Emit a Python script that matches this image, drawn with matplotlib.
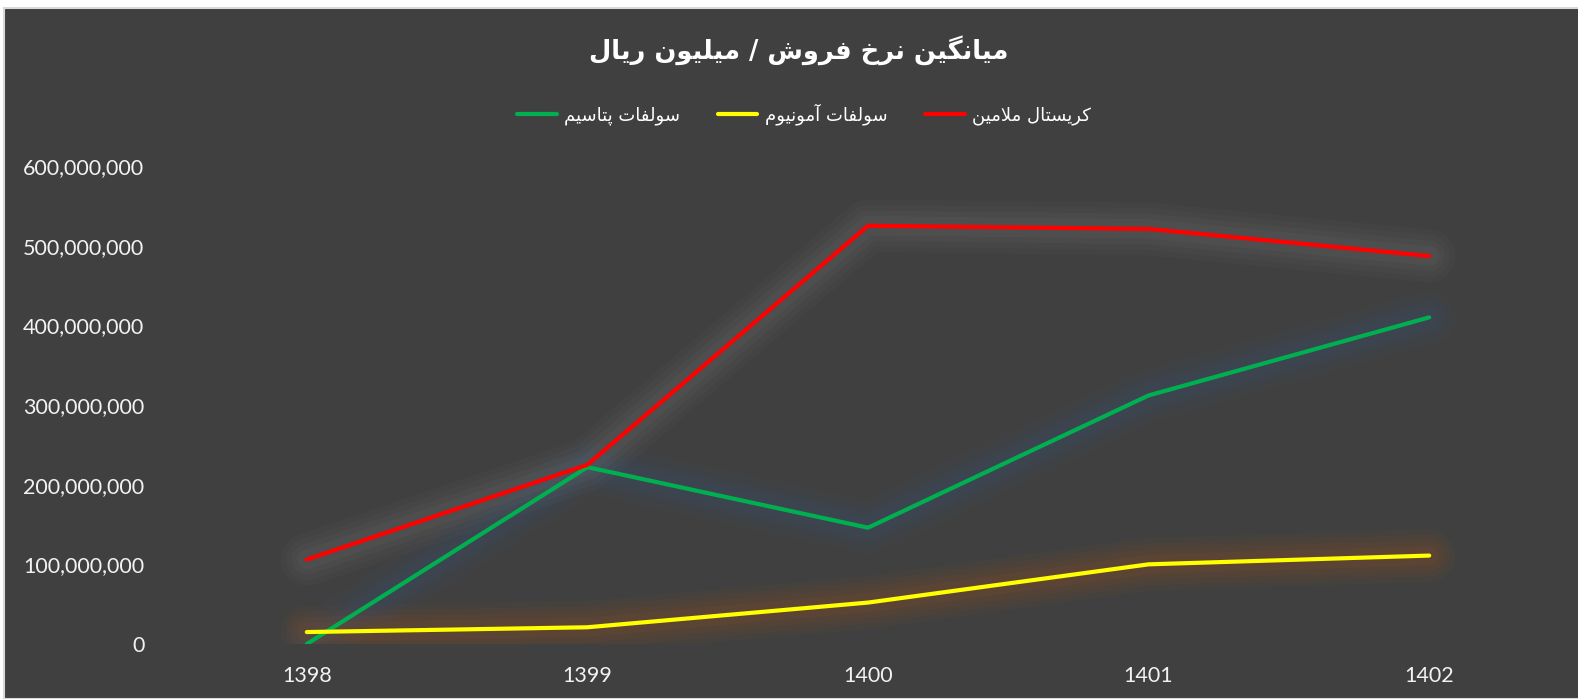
import matplotlib
matplotlib.use("Agg")
import matplotlib.pyplot as plt
from matplotlib.ticker import FuncFormatter
from matplotlib.patches import Rectangle

# داده‌ها (خوانده شده از نمودار)
years = ["1398", "1399", "1400", "1401", "1402"]
potassium = [0, 222e6, 146e6, 312e6, 410e6]       # سولفات پتاسیم
ammonium = [15e6, 21e6, 52e6, 100e6, 111e6]       # سولفات آمونیوم
melamine = [106e6, 225e6, 525e6, 521e6, 487e6]    # کریستال ملامین

title = "میانگین نرخ فروش / میلیون ریال"
names = ["سولفات پتاسیم", "سولفات آمونیوم", "کریستال ملامین"]

# شکل‌دهی ساده حروف فارسی (matplotlib خودش اتصال حروف را انجام نمی‌دهد)
FORMS = {  # isolated, final, initial, medial
    "ا": ("\uFE8D", "\uFE8E", None, None),
    "آ": ("\uFE81", "\uFE82", None, None),
    "ر": ("\uFEAD", "\uFEAE", None, None),
    "و": ("\uFEED", "\uFEEE", None, None),
    "پ": ("\uFB56", "\uFB57", "\uFB58", "\uFB59"),
    "ت": ("\uFE95", "\uFE96", "\uFE97", "\uFE98"),
    "خ": ("\uFEA5", "\uFEA6", "\uFEA7", "\uFEA8"),
    "س": ("\uFEB1", "\uFEB2", "\uFEB3", "\uFEB4"),
    "ش": ("\uFEB5", "\uFEB6", "\uFEB7", "\uFEB8"),
    "ف": ("\uFED1", "\uFED2", "\uFED3", "\uFED4"),
    "ک": ("\uFB8E", "\uFB8F", "\uFB90", "\uFB91"),
    "گ": ("\uFB92", "\uFB93", "\uFB94", "\uFB95"),
    "ل": ("\uFEDD", "\uFEDE", "\uFEDF", "\uFEE0"),
    "م": ("\uFEE1", "\uFEE2", "\uFEE3", "\uFEE4"),
    "ن": ("\uFEE5", "\uFEE6", "\uFEE7", "\uFEE8"),
    "ی": ("\uFBFC", "\uFBFD", "\uFBFE", "\uFBFF"),
}


def shape(text):
    out = []
    i = 0
    n = len(text)
    while i < n:
        c = text[i]
        if c not in FORMS:
            out.append(c)
            i += 1
            continue
        prev = text[i - 1] if i > 0 else ""
        join_prev = prev in FORMS and FORMS[prev][2] is not None
        # لام‌الف
        if c == "ل" and i + 1 < n and text[i + 1] == "ا":
            out.append("\uFEFC" if join_prev else "\uFEFB")
            i += 2
            continue
        nxt = text[i + 1] if i + 1 < n else ""
        join_next = FORMS[c][2] is not None and nxt in FORMS
        if join_prev and join_next:
            out.append(FORMS[c][3])
        elif join_prev:
            out.append(FORMS[c][1])
        elif join_next:
            out.append(FORMS[c][2])
        else:
            out.append(FORMS[c][0])
        i += 1
    return "".join(out)[::-1]


bg = "#404040"
fig = plt.figure(figsize=(15.78, 6.99), dpi=100, facecolor="white")
fig.patches.append(Rectangle((4 / 1578, 0), 1, 1 - 8 / 699, transform=fig.transFigure,
                             facecolor=bg, edgecolor="#d9d9d9", linewidth=1.5, zorder=-10))

ax = fig.add_axes([166.5 / 1578, 55 / 699, 1403 / 1578, 478 / 699])
ax.set_facecolor("none")
ax.set_zorder(5)

x = range(len(years))
# (مقادیر، رنگ خط، رنگ درخشش، شدت درخشش)
series = [
    (potassium, "#00B050", "#3A5A8C", 1.0),
    (ammonium, "#FFFF00", "#C55A11", 0.9),
    (melamine, "#FF0000", "#9A9A9A", 0.75),
]

# افکت درخشش دور خطوط
for vals, col, glow, k in series:
    for w, a in [(38, 0.05), (30, 0.06), (22, 0.07), (14, 0.08)]:
        ax.plot(x, vals, color=glow, lw=w, alpha=a * k, solid_capstyle="round",
                solid_joinstyle="round", zorder=1)

handles = []
for (vals, col, glow, k), name in zip(series, names):
    h, = ax.plot(x, vals, color=col, lw=3, solid_capstyle="round",
                 solid_joinstyle="round", zorder=3, label=shape(name))
    handles.append(h)

ax.set_xlim(-0.5, len(years) - 0.5)
ax.set_ylim(0, 600e6)
ax.set_yticks([0, 100e6, 200e6, 300e6, 400e6, 500e6, 600e6])
ax.yaxis.set_major_formatter(FuncFormatter(lambda v, p: f"{v:,.0f}"))
ax.set_xticks(list(x))
ax.set_xticklabels(years)
for s in ax.spines.values():
    s.set_visible(False)
ax.tick_params(axis="both", length=0, colors="#F2F2F2", labelsize=15.5)
ax.tick_params(axis="y", pad=16)
ax.tick_params(axis="x", pad=15.5)
for lab in ax.get_xticklabels() + ax.get_yticklabels():
    lab.set_fontfamily(["Lato", "DejaVu Sans"])

fig.text(0.506, 1 - 50 / 699, shape(title), ha="center", va="center",
         fontsize=18.5, fontweight="bold", color="white", family="DejaVu Sans")

leg = fig.legend(handles=handles, loc="center", bbox_to_anchor=(0.5095, 1 - 114 / 699),
                 ncol=3, frameon=False, handlelength=2.2,
                 columnspacing=2.1, handletextpad=0.4,
                 prop={"family": "DejaVu Sans", "size": 13})
for t in leg.get_texts():
    t.set_color("white")

plt.savefig("out.png", dpi=100, facecolor=fig.get_facecolor())
